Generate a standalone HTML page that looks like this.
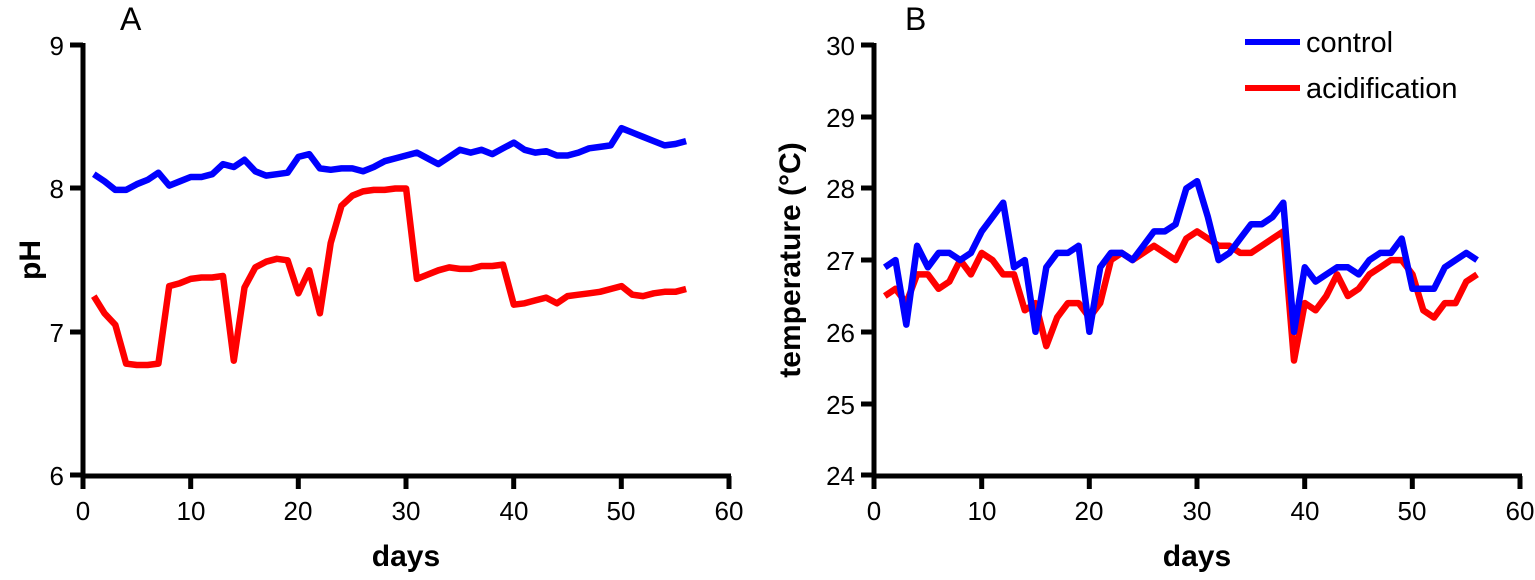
<!DOCTYPE html>
<html><head><meta charset="utf-8"><style>body{margin:0;background:#fff}svg{display:block}text{font-family:"Liberation Sans",Arial,sans-serif}</style></head>
<body>
<svg id="s" width="1535" height="580" xmlns="http://www.w3.org/2000/svg">
<g stroke="#000" stroke-width="5" fill="none">
<path d="M83,43V478M81,476H731"/>
<path d="M70,45H83M70,188H83M70,332H83M70,475H83"/>
<path d="M83,476V489M190.7,476V489M298.3,476V489M406,476V489M513.7,476V489M621.3,476V489M729,476V489"/>
<path d="M874,43V478M872,476H1522"/>
<path d="M861,45H874M861,117H874M861,188H874M861,260H874M861,332H874M861,404H874M861,475H874"/>
<path d="M874,476V489M981.7,476V489M1089.3,476V489M1197,476V489M1304.7,476V489M1412.3,476V489M1520,476V489"/>
</g>
<g font-size="26" text-anchor="end">
<text x="64" y="55">9</text><text x="64" y="198">8</text><text x="64" y="342">7</text><text x="64" y="485">6</text>
<text x="855" y="55">30</text><text x="855" y="127">29</text><text x="855" y="198">28</text><text x="855" y="270">27</text><text x="855" y="342">26</text><text x="855" y="414">25</text><text x="855" y="485">24</text>
</g>
<g font-size="26" text-anchor="middle">
<text x="83" y="520">0</text><text x="191" y="520">10</text><text x="298" y="520">20</text><text x="406" y="520">30</text><text x="514" y="520">40</text><text x="621" y="520">50</text><text x="729" y="520">60</text>
<text x="874" y="520">0</text><text x="982" y="520">10</text><text x="1089" y="520">20</text><text x="1197" y="520">30</text><text x="1305" y="520">40</text><text x="1412" y="520">50</text><text x="1520" y="520">60</text>
</g>
<g font-size="30" font-weight="bold" text-anchor="middle">
<text x="406" y="566">days</text><text x="1197" y="566">days</text>
<text transform="translate(40,260) rotate(-90)">pH</text>
<text transform="translate(800,260) rotate(-90)">temperature (°C)</text>
</g>
<text x="120" y="30" font-size="32">A</text>
<text x="905" y="30" font-size="32">B</text>
<line x1="1245" y1="42" x2="1300" y2="42" stroke="#00f" stroke-width="6"/>
<line x1="1245" y1="88" x2="1300" y2="88" stroke="#f00" stroke-width="6"/>
<text x="1306" y="52" font-size="29">control</text>
<text x="1306" y="98" font-size="29">acidification</text>
<g id="lines" fill="none" stroke-width="6.5" stroke-linejoin="round"></g>
</svg>
<script>
var aB=[8.10,8.05,7.99,7.99,8.03,8.06,8.11,8.02,8.05,8.08,8.08,8.10,8.17,8.15,8.20,8.12,8.09,8.10,8.11,8.22,8.24,8.14,8.13,8.14,8.14,8.12,8.15,8.19,8.21,8.23,8.25,8.21,8.17,8.22,8.27,8.25,8.27,8.24,8.28,8.32,8.27,8.25,8.26,8.23,8.23,8.25,8.28,8.29,8.30,8.42,8.39,8.36,8.33,8.30,8.31,8.33];
var aR=[7.25,7.13,7.05,6.78,6.77,6.77,6.78,7.32,7.34,7.37,7.38,7.38,7.39,6.80,7.31,7.45,7.49,7.51,7.50,7.27,7.43,7.13,7.62,7.88,7.95,7.98,7.99,7.99,8.00,8.00,7.37,7.40,7.43,7.45,7.44,7.44,7.46,7.46,7.47,7.19,7.20,7.22,7.24,7.20,7.25,7.26,7.27,7.28,7.30,7.32,7.26,7.25,7.27,7.28,7.28,7.30];
var bB=[26.9,27.0,26.1,27.2,26.9,27.1,27.1,27.0,27.1,27.4,27.6,27.8,26.9,27.0,26.0,26.9,27.1,27.1,27.2,26.0,26.9,27.1,27.1,27.0,27.2,27.4,27.4,27.5,28.0,28.1,27.6,27.0,27.1,27.3,27.5,27.5,27.6,27.8,26.0,26.9,26.7,26.8,26.9,26.9,26.8,27.0,27.1,27.1,27.3,26.6,26.6,26.6,26.9,27.0,27.1,27.0];
var bR=[26.5,26.6,26.4,26.8,26.8,26.6,26.7,27.0,26.8,27.1,27.0,26.8,26.8,26.3,26.4,25.8,26.2,26.4,26.4,26.2,26.4,27.0,27.1,27.0,27.1,27.2,27.1,27.0,27.3,27.4,27.3,27.2,27.2,27.1,27.1,27.2,27.3,27.4,25.6,26.4,26.3,26.5,26.8,26.5,26.6,26.8,26.9,27.0,27.0,26.8,26.3,26.2,26.4,26.4,26.7,26.8];
function pl(d,x0,ytop,vtop,sc,col){var p=d.map(function(v,i){return (x0+(i+1)*10.77).toFixed(1)+','+(ytop+(vtop-v)*sc).toFixed(1)}).join(' ');
var e=document.createElementNS('http://www.w3.org/2000/svg','polyline');e.setAttribute('points',p);e.setAttribute('stroke',col);document.getElementById('lines').appendChild(e);}
pl(aB,83,45,9,143.5,'#00f');pl(aR,83,45,9,143.5,'#f00');
pl(bR,874,45,30,71.7,'#f00');pl(bB,874,45,30,71.7,'#00f');
</script>
</body></html>
